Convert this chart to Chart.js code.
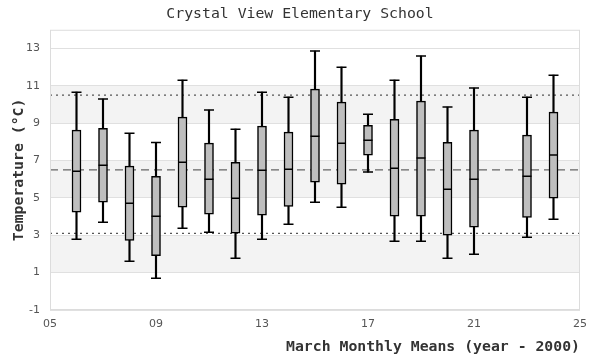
<!DOCTYPE html>
<html>
<head>
<meta charset="utf-8">
<script src="https://cdn.jsdelivr.net/npm/chart.js@4/dist/chart.umd.min.js"></script>
<style>
  html, body { margin: 0; padding: 0; background: #fff; }
  #wrap { width: 600px; height: 360px; position: relative; }
</style>
</head>
<body>
<div id="wrap"><canvas id="chart"></canvas></div>
<script>
// March monthly means per year (year - 2000)
const years      = [6, 7, 8, 9, 10, 11, 12, 13, 14, 15, 16, 17, 18, 19, 20, 21, 23, 24];
const whiskerLow = [2.79, 3.70, 1.61, 0.70, 3.38, 3.16, 1.77, 2.79, 3.59, 4.77, 4.50, 6.38, 2.68, 2.68, 1.77, 1.98, 2.89, 3.86];
const q1         = [4.23, 4.77, 2.73, 1.91, 4.50, 4.13, 3.11, 4.07, 4.55, 5.84, 5.73, 7.29, 4.02, 4.02, 3.00, 3.43, 3.96, 4.98];
const median     = [6.43, 6.75, 4.71, 4.02, 6.91, 6.00, 4.98, 6.48, 6.54, 8.30, 7.93, 8.09, 6.59, 7.13, 5.46, 6.00, 6.16, 7.29];
const q3         = [8.63, 8.73, 6.70, 6.16, 9.32, 7.93, 6.91, 8.84, 8.52, 10.82, 10.13, 8.89, 9.21, 10.18, 7.98, 8.63, 8.36, 9.59];
const whiskerHigh= [10.66, 10.29, 8.46, 7.96, 11.30, 9.70, 8.68, 10.66, 10.39, 12.86, 12.00, 9.48, 11.30, 12.59, 9.86, 10.88, 10.39, 11.57];

// reference lines: overall mean and upper / lower limits
const meanLine  = 6.5;
const limitLines = [10.5, 3.1];

const xTicks = [5, 9, 13, 17, 21, 25];
const yTicks = [-1, 1, 3, 5, 7, 9, 11, 13];
const xRange = [5, 25];
const yRange = [-1, 14];

// shaded bands between grid lines
const bands = [[1, 3], [5, 7], [9, 11]];

const monoFont = "'DejaVu Sans Mono', 'Liberation Mono', monospace";
const sansFont = "'DejaVu Sans', 'Liberation Sans', sans-serif";

const bandPlugin = {
    id: 'bands',
    beforeDraw(chart) {
        const { ctx, chartArea, scales } = chart;
        ctx.save();
        ctx.fillStyle = '#f3f3f3';
        bands.forEach(b => {
            const yTop = scales.y.getPixelForValue(b[1]);
            const yBot = scales.y.getPixelForValue(b[0]);
            ctx.fillRect(chartArea.left, yTop, chartArea.right - chartArea.left, yBot - yTop);
        });
        ctx.restore();
    },
    afterDraw(chart) {
        const { ctx, chartArea } = chart;
        ctx.save();
        ctx.strokeStyle = '#dcdcdc';
        ctx.lineWidth = 1;
        ctx.strokeRect(chartArea.left + 0.5, chartArea.top + 0.5,
            chartArea.right - chartArea.left - 1, chartArea.bottom - chartArea.top - 1);
        ctx.restore();
    }
};

function hLine(v) {
    return [{ x: xRange[0], y: v }, { x: xRange[1], y: v }];
}

const capPoints = [];
years.forEach((yr, i) => {
    capPoints.push({ x: yr, y: whiskerLow[i] });
    capPoints.push({ x: yr, y: whiskerHigh[i] });
});

const datasets = [
    {
        type: 'line', data: hLine(meanLine), borderColor: '#666', borderWidth: 1.3,
        borderDash: [8, 5], pointRadius: 0, order: 6
    },
    {
        type: 'line', data: hLine(limitLines[0]), borderColor: '#555', borderWidth: 1.3,
        borderDash: [2, 4], pointRadius: 0, order: 6
    },
    {
        type: 'line', data: hLine(limitLines[1]), borderColor: '#555', borderWidth: 1.3,
        borderDash: [2, 4], pointRadius: 0, order: 6
    },
    {
        // whiskers
        type: 'bar', data: years.map((yr, i) => ({ x: yr, y: [whiskerLow[i], whiskerHigh[i]] })),
        backgroundColor: '#000', borderWidth: 0, barThickness: 1.5, grouped: false, order: 5
    },
    {
        // whisker caps
        type: 'line', data: capPoints, showLine: false, pointStyle: 'line',
        pointRadius: 5, pointBorderWidth: 1.5, pointBorderColor: '#000', order: 4
    },
    {
        // boxes
        type: 'bar', data: years.map((yr, i) => ({ x: yr, y: [q1[i], q3[i]] })),
        backgroundColor: '#bebebe', borderColor: '#000', borderWidth: 1.5,
        borderSkipped: false, barThickness: 9, grouped: false, order: 3
    },
    {
        // medians
        type: 'line', data: years.map((yr, i) => ({ x: yr, y: median[i] })), showLine: false,
        pointStyle: 'line', pointRadius: 4.5, pointBorderWidth: 1.5, pointBorderColor: '#000', order: 2
    }
];

new Chart(document.getElementById('chart'), {
    type: 'bar',
    data: { datasets: datasets },
    options: {
        responsive: true,
        maintainAspectRatio: false,
        animation: false,
        layout: { padding: 0 },
        plugins: {
            legend: { display: false },
            tooltip: { enabled: false },
            title: {
                display: true,
                text: 'Crystal View Elementary School',
                color: '#333',
                font: { family: monoFont, size: 14.8, weight: 'normal' },
                padding: { top: 5, bottom: 7 }
            }
        },
        scales: {
            x: {
                type: 'linear',
                min: xRange[0], max: xRange[1],
                offset: false,
                grid: { display: false, drawTicks: false },
                border: { display: false },
                afterBuildTicks: s => { s.ticks = xTicks.map(v => ({ value: v })); },
                afterFit: s => { s.height = 50; },
                ticks: {
                    color: '#555', padding: 8,
                    font: { family: sansFont, size: 11 },
                    callback: v => String(v).padStart(2, '0')
                },
                title: {
                    display: true, align: 'end',
                    text: 'March Monthly Means (year - 2000)',
                    color: '#333',
                    font: { family: monoFont, size: 14.8, weight: 'bold' },
                    padding: { top: 0, bottom: 4 }
                }
            },
            y: {
                type: 'linear',
                min: yRange[0], max: yRange[1],
                grid: { color: '#e0e0e0', lineWidth: 1, drawTicks: false },
                border: { display: false },
                afterBuildTicks: s => { s.ticks = yTicks.map(v => ({ value: v })); },
                afterFit: s => { s.width = 50; },
                ticks: {
                    color: '#555', padding: 10,
                    font: { family: sansFont, size: 11 }
                },
                title: {
                    display: true,
                    text: 'Temperature (°C)',
                    color: '#333',
                    font: { family: monoFont, size: 14.8, weight: 'bold' },
                    padding: { top: 10, bottom: 0 }
                }
            },
            // empty right-hand margin axis so the title stays centred on the page
            yRight: {
                type: 'linear', position: 'right',
                min: yRange[0], max: yRange[1],
                grid: { display: false, drawTicks: false },
                border: { display: false },
                ticks: { display: false },
                afterFit: s => { s.width = 20; }
            }
        }
    },
    plugins: [bandPlugin]
});
</script>
</body>
</html>
